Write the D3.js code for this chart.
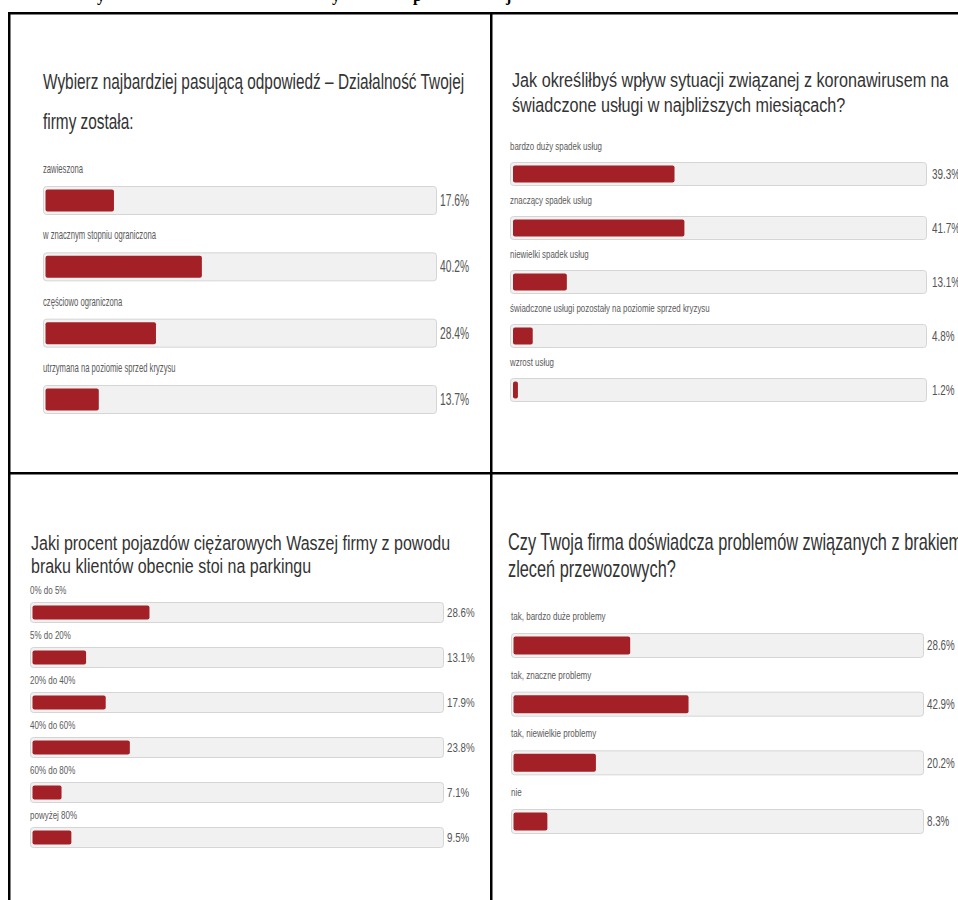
<!DOCTYPE html>
<html>
<head>
<meta charset="utf-8">
<script src="https://cdn.jsdelivr.net/npm/d3@7"></script>
<style>
  html, body { margin: 0; padding: 0; background: #fff; }
  svg { display: block; }
</style>
</head>
<body>
<script>
// ---- Survey results: four questions, share of answers in percent ----
const q1Title = ["Wybierz najbardziej pasującą odpowiedź – Działalność Twojej", "firmy została:"];
const q1Categories = ["zawieszona", "w znacznym stopniu ograniczona", "częściowo ograniczona", "utrzymana na poziomie sprzed kryzysu"];
const q1Values = [17.6, 40.2, 28.4, 13.7];

const q2Title = ["Jak określiłbyś wpływ sytuacji związanej z koronawirusem na", "świadczone usługi w najbliższych miesiącach?"];
const q2Categories = ["bardzo duży spadek usług", "znaczący spadek usług", "niewielki spadek usług", "świadczone usługi pozostały na poziomie sprzed kryzysu", "wzrost usług"];
const q2Values = [39.3, 41.7, 13.1, 4.8, 1.2];

const q3Title = ["Jaki procent pojazdów ciężarowych Waszej firmy z powodu", "braku klientów obecnie stoi na parkingu"];
const q3Categories = ["0% do 5%", "5% do 20%", "20% do 40%", "40% do 60%", "60% do 80%", "powyżej 80%"];
const q3Values = [28.6, 13.1, 17.9, 23.8, 7.1, 9.5];

const q4Title = ["Czy Twoja firma doświadcza problemów związanych z brakiem", "zleceń przewozowych?"];
const q4Categories = ["tak, bardzo duże problemy", "tak, znaczne problemy", "tak, niewielkie problemy", "nie"];
const q4Values = [28.6, 42.9, 20.2, 8.3];

// ---- Page ----
const W = 958, H = 900;
const svg = d3.select("body").append("svg").attr("width", W).attr("height", H);
svg.append("rect").attr("width", W).attr("height", H).attr("fill", "#fff");

const FONT = "'Liberation Sans', Arial, sans-serif";
const RED = "#a32126";
const fmt = v => d3.format(".1f")(v) + "%";

// Tail of the caption line that runs above the table
const caption = svg.append("g").attr("font-family", "'Liberation Serif', 'Times New Roman', serif")
  .attr("font-weight", "bold").attr("font-size", 16).attr("fill", "#000");
[["y", 97], ["y", 332], ["p", 413], ["j", 506]].forEach(([ch, x]) => {
  caption.append("text").attr("x", x).attr("y", 0.5).text(ch);
});

// Condensed text helper: horizontal squeeze keeps the tall, narrow look of the survey type
function squeezed(sel, x, y, sx) {
  return sel.attr("transform", `translate(${x},${y}) scale(${sx},1)`);
}

function drawPanel(cfg, title, cats, vals) {
  const g = svg.append("g").attr("font-family", FONT);

  g.selectAll("text.title").data(title).join("text")
    .attr("class", "title")
    .attr("font-size", cfg.titleSize)
    .attr("fill", "#333")
    .each(function (d, i) { squeezed(d3.select(this), cfg.titleX, cfg.titleY[i], cfg.titleSx); })
    .text(d => d);

  const inner = cfg.trackW - 2 * cfg.pad;
  const x = d3.scaleLinear().domain([0, 100]).range([0, inner]);
  const y = d3.scaleLinear().domain([0, cats.length - 1]).range([cfg.firstTop, cfg.lastTop]);

  const rows = g.selectAll("g.row")
    .data(cats.map((c, i) => ({ c, v: vals[i], i })))
    .join("g").attr("class", "row")
    .attr("transform", d => `translate(0,${y(d.i)})`);

  // grey track
  rows.append("rect")
    .attr("x", cfg.x0 + 0.5).attr("y", 0.5)
    .attr("width", cfg.trackW).attr("height", cfg.trackH)
    .attr("rx", 3)
    .attr("fill", "#f1f1f1")
    .attr("stroke", "#d5d5d5").attr("stroke-width", 1);

  // value bar
  rows.append("rect")
    .attr("x", cfg.x0 + cfg.pad + 0.5)
    .attr("y", cfg.inset + 0.5)
    .attr("width", d => x(d.v))
    .attr("height", cfg.trackH - 2 * cfg.inset)
    .attr("rx", 2)
    .attr("fill", RED);

  // answer label above the track
  rows.append("text")
    .attr("font-size", cfg.labelSize)
    .attr("fill", "#5a5a5a")
    .each(function () { squeezed(d3.select(this), cfg.x0, -cfg.labelGap, cfg.labelSx); })
    .text(d => d.c);

  // percentage to the right
  rows.append("text")
    .attr("font-size", cfg.valueSize)
    .attr("fill", "#555")
    .each(function () { squeezed(d3.select(this), cfg.valueX, cfg.trackH / 2 + cfg.valueSize * 0.37, cfg.valueSx); })
    .text(d => fmt(d.v));
}

drawPanel({
  titleX: 43, titleY: [89, 129], titleSize: 22, titleSx: 0.70,
  x0: 43, trackW: 393, trackH: 28, pad: 2, inset: 3,
  firstTop: 186, lastTop: 385,
  labelSize: 12, labelSx: 0.64, labelGap: 13,
  valueX: 440, valueSize: 16, valueSx: 0.64
}, q1Title, q1Categories, q1Values);

drawPanel({
  titleX: 512, titleY: [87, 112], titleSize: 21, titleSx: 0.77,
  x0: 510, trackW: 416, trackH: 23, pad: 2.5, inset: 3,
  firstTop: 162, lastTop: 378,
  labelSize: 11, labelSx: 0.72, labelGap: 12,
  valueX: 932, valueSize: 15, valueSx: 0.66
}, q2Title, q2Categories, q2Values);

drawPanel({
  titleX: 31, titleY: [550, 573], titleSize: 20, titleSx: 0.80,
  x0: 30, trackW: 413, trackH: 20, pad: 2, inset: 3,
  firstTop: 602, lastTop: 827,
  labelSize: 10, labelSx: 0.80, labelGap: 8,
  valueX: 447, valueSize: 13, valueSx: 0.75
}, q3Title, q3Categories, q3Values);

drawPanel({
  titleX: 508, titleY: [550, 577], titleSize: 23, titleSx: 0.71,
  x0: 511, trackW: 412, trackH: 24, pad: 2, inset: 3,
  firstTop: 633, lastTop: 809,
  labelSize: 11, labelSx: 0.73, labelGap: 13,
  valueX: 927, valueSize: 14, valueSx: 0.70
}, q4Title, q4Categories, q4Values);

// ---- Table frame ----
const frame = svg.append("g").attr("fill", "#000");
frame.append("rect").attr("x", 8).attr("y", 12).attr("width", W - 8).attr("height", 2.5);   // top rule
frame.append("rect").attr("x", 8).attr("y", 472).attr("width", W - 8).attr("height", 2.5);  // middle rule
frame.append("rect").attr("x", 8).attr("y", 12).attr("width", 2.5).attr("height", H - 12);  // left rule
frame.append("rect").attr("x", 490).attr("y", 12).attr("width", 2.5).attr("height", H - 12); // centre rule
</script>
</body>
</html>
